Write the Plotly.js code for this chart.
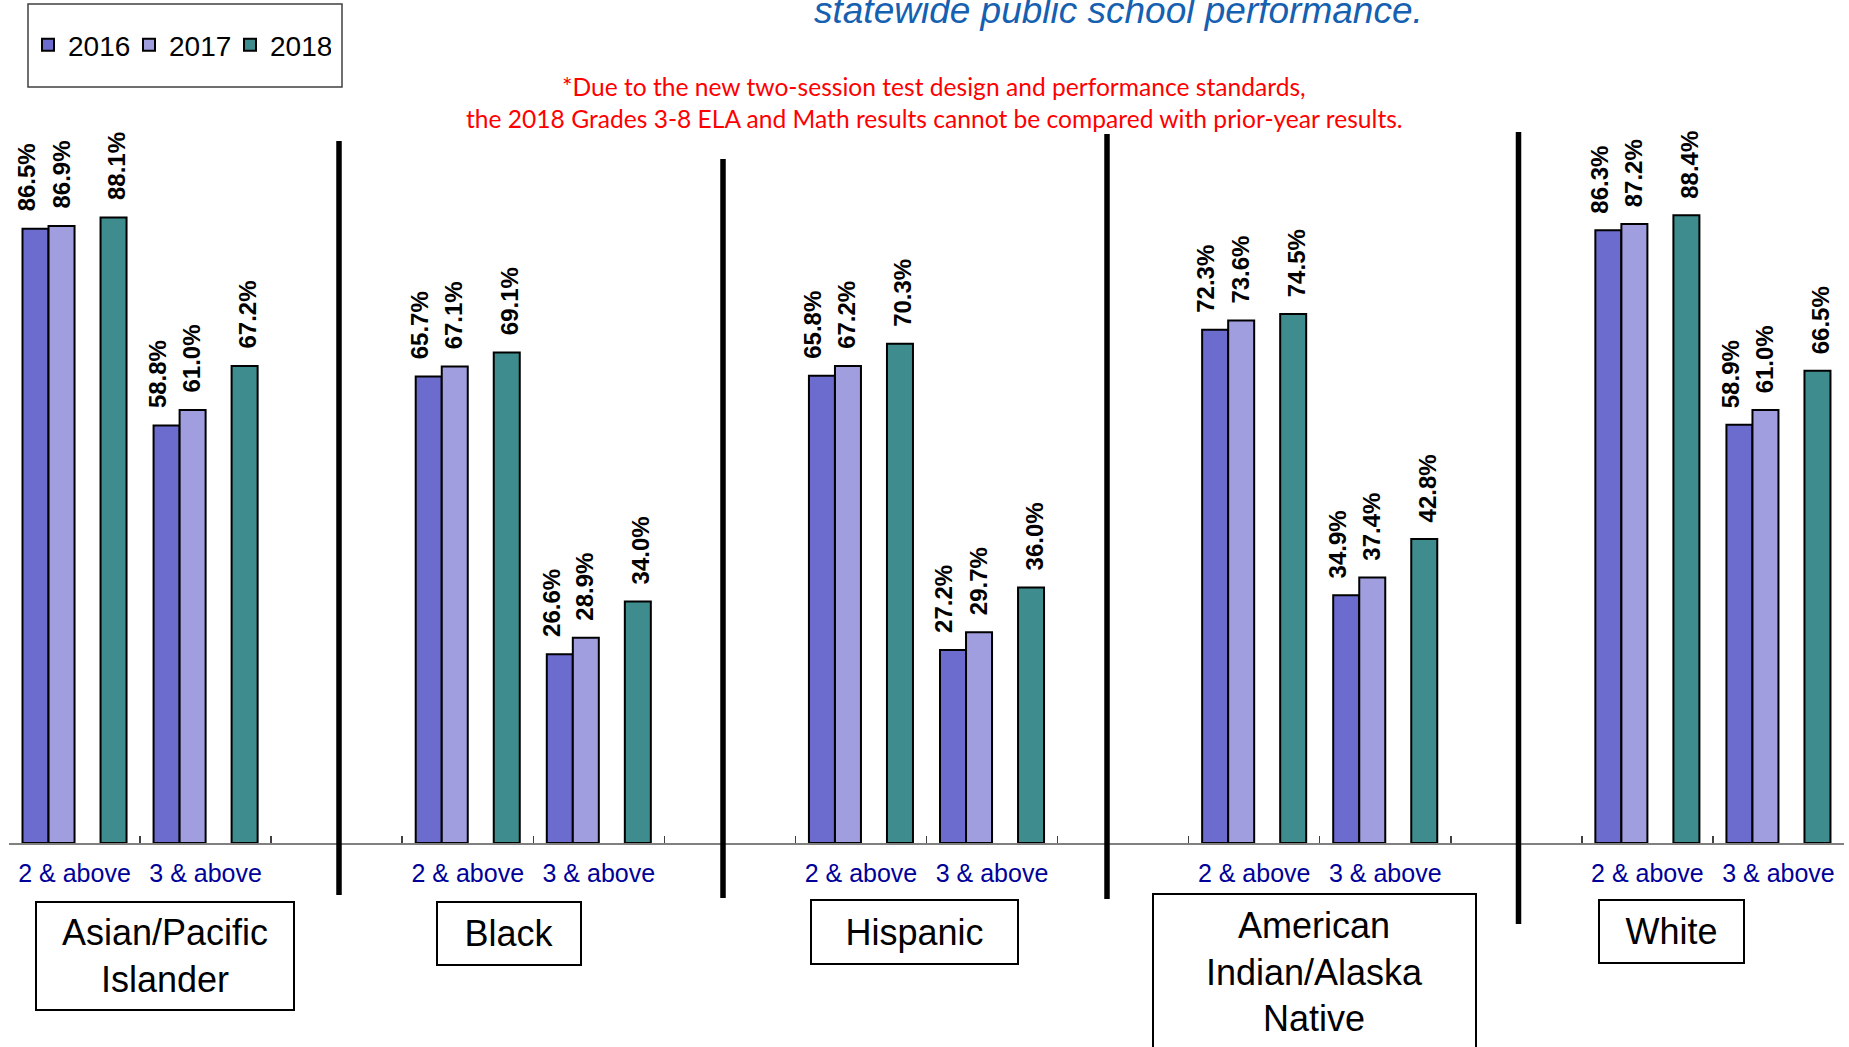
<!DOCTYPE html>
<html><head><meta charset="utf-8">
<script src="https://cdn.plot.ly/plotly-3.0.1.min.js"></script>
<style>html,body{margin:0;padding:0;background:#fff;overflow:hidden}#chart{width:1849px;height:1047px}</style>
</head><body><div id="chart"></div>
<script>
// ---- data ----
const groupLabels = ["Asian/Pacific<br>Islander", "Black", "Hispanic", "American<br>Indian/Alaska<br>Native", "White"];
const levels = ["2 & above", "3 & above"];
const years = ["2016", "2017", "2018"];
const v2016 = [86.5, 58.8, 65.7, 26.6, 65.8, 27.2, 72.3, 34.9, 86.3, 58.9];
const v2017 = [86.9, 61.0, 67.1, 28.9, 67.2, 29.7, 73.6, 37.4, 87.2, 61.0];
const v2018 = [88.1, 67.2, 69.1, 34.0, 70.3, 36.0, 74.5, 42.8, 88.4, 66.5];
const noteLines = ["*Due to the new two-session test design and performance standards,",
  "the 2018 Grades 3-8 ELA and Math results cannot be compared with prior-year results."];
const headline = "statewide public school performance.";

// ---- layout helpers ----
const W = 1849, H = 1047;
const M = {l: 9, r: 5, t: 133, b: 204};
const plotW = W - M.l - M.r, plotH = H - M.t - M.b;
const px2x = p => (p - M.l) / plotW;
const py2y = p => (H - M.b - p) / plotH;
const FONT = "Liberation Sans, Arial, sans-serif";

// categories: group|level, with an empty spacer category between groups
const cats = [], tickText = [], barX = [];
groupLabels.forEach((g, gi) => {
  levels.forEach(lv => { const id = gi + "|" + lv; cats.push(id); tickText.push(lv); barX.push(id); });
  if (gi < groupLabels.length - 1) { cats.push("gap" + gi); tickText.push(""); }
});
const catPx = plotW / cats.length;

const series = [v2016, v2017, v2018];
const colors = ["#6C6CCE", "#A09EDE", "#3E8C8E"];
const slot = 0.1984;
const offsets = [-0.397, -0.1984, 0.1984];
const labelShift = [-9, -1, 3];

const traces = series.map((vals, i) => ({
  type: "bar", name: years[i], x: barX, y: vals,
  width: slot, offset: offsets[i],
  marker: {color: colors[i], line: {color: "#000", width: 2}},
  hoverinfo: "skip"
}));

const annotations = [];
series.forEach((vals, i) => {
  vals.forEach((v, j) => {
    annotations.push({
      x: barX[j], y: v, xref: "x", yref: "y",
      text: "<b>" + v.toFixed(1) + "%</b>", textangle: -90, showarrow: false,
      xanchor: "center", yanchor: "bottom", yshift: 15,
      xshift: (offsets[i] + slot / 2) * catPx + labelShift[i],
      font: {family: FONT, size: 24, color: "#000"}
    });
  });
});

// group boxes
const boxPx = [[165, 956, 260, 110], [509, 933.5, 146, 65], [914.5, 932, 209, 66], [1314.5, 972, 325, 158], [1671.5, 931.5, 147, 65]];
groupLabels.forEach((g, gi) => {
  const b = boxPx[gi];
  annotations.push({
    xref: "paper", yref: "paper", x: px2x(b[0]), y: py2y(b[1]),
    xanchor: "center", yanchor: "middle", showarrow: false,
    text: g, width: b[2] - 4, height: b[3] - 4, align: "center", valign: "middle",
    bordercolor: "#000", borderwidth: 2, borderpad: 0, bgcolor: "#fff",
    font: {family: FONT, size: 36, color: "#000"}
  });
});

// headline + note
annotations.push({xref: "paper", yref: "paper", x: px2x(1118), y: py2y(10), xanchor: "center", yanchor: "middle",
  showarrow: false, text: "<i>" + headline + "</i>", font: {family: FONT, size: 37, color: "#1560B0"}});
[86, 118].forEach((cy, k) => annotations.push({xref: "paper", yref: "paper", x: px2x(934), y: py2y(cy),
  xanchor: "center", yanchor: "middle", showarrow: false, text: noteLines[k],
  font: {family: "Lato, Open Sans, sans-serif", size: 24.6, color: "#FF0000"}}));

// separators + legend frame
const sepPx = [[339, 141, 895], [723, 159, 898], [1107, 134, 899], [1518.5, 132, 924]];
const shapes = sepPx.map(s => ({type: "line", xref: "paper", yref: "paper",
  x0: px2x(s[0]), x1: px2x(s[0]), y0: py2y(s[1]), y1: py2y(s[2]), line: {color: "#000", width: 5.5}}));
shapes.push({type: "rect", xref: "paper", yref: "paper", x0: px2x(28), x1: px2x(342), y0: py2y(4), y1: py2y(87),
  line: {color: "#404040", width: 1.5}});

const layout = {
  width: W, height: H, margin: M, paper_bgcolor: "#fff", plot_bgcolor: "#fff",
  barmode: "overlay", showlegend: true,
  legend: {orientation: "h", x: px2x(28), xanchor: "left", y: py2y(45), yanchor: "middle",
    font: {family: FONT, size: 28, color: "#000"}, bgcolor: "rgba(0,0,0,0)", borderwidth: 0, traceorder: "normal",
    itemwidth: 30, entrywidth: 56, entrywidthmode: "pixels"},
  xaxis: {type: "category", categoryorder: "array", categoryarray: cats, range: [-0.5, cats.length - 0.5],
    tickmode: "array", tickvals: cats, ticktext: tickText, tickson: "boundaries",
    ticks: "inside", ticklen: 7, tickwidth: 1.5, tickcolor: "#404040",
    showline: true, linecolor: "#808080", linewidth: 2, showgrid: false, zeroline: false,
    tickfont: {family: FONT, size: 25, color: "#000099"}, ticklabelstandoff: 7, fixedrange: true},
  yaxis: {range: [0, 100], visible: false, showgrid: false, zeroline: false, fixedrange: true},
  annotations: annotations, shapes: shapes
};
Plotly.newPlot("chart", traces, layout, {displayModeBar: false, staticPlot: true});
</script></body></html>
